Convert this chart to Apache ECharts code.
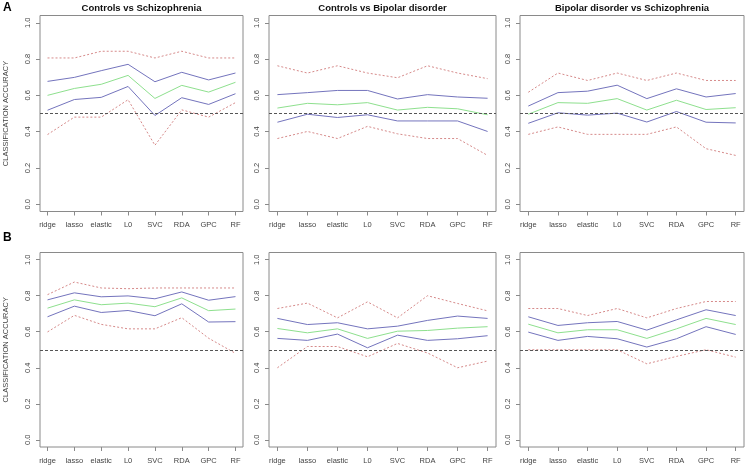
<!DOCTYPE html>
<html>
<head>
<meta charset="utf-8">
<script src="https://cdn.jsdelivr.net/npm/echarts@6/dist/echarts.min.js"></script>
<style>html,body{margin:0;padding:0;background:#fff}#c{width:752px;height:470px}</style>
</head>
<body>
<div id="c"></div>
<script>
// ---------- DATA ----------
const categories = ['ridge', 'lasso', 'elastic', 'L0', 'SVC', 'RDA', 'GPC', 'RF'];
const panelTitles = ['Controls vs Schizophrenia', 'Controls vs Bipolar disorder', 'Bipolar disorder vs Schizophrenia'];
const yTicks = [0, 0.2, 0.4, 0.6, 0.8, 1.0];
const chanceLevel = 0.5;

// Row A
const A1_redHi  = [0.806, 0.806, 0.843, 0.843, 0.806, 0.843, 0.806, 0.806];
const A1_blueHi = [0.677, 0.699, 0.736, 0.771, 0.675, 0.727, 0.685, 0.723];
const A1_green  = [0.600, 0.638, 0.661, 0.710, 0.583, 0.655, 0.618, 0.672];
const A1_blueLo = [0.518, 0.577, 0.589, 0.649, 0.489, 0.587, 0.550, 0.609];
const A1_redLo  = [0.384, 0.480, 0.480, 0.576, 0.325, 0.520, 0.480, 0.560];

const A2_redHi  = [0.763, 0.723, 0.763, 0.723, 0.697, 0.763, 0.723, 0.692];
const A2_blueHi = [0.604, 0.615, 0.627, 0.627, 0.580, 0.604, 0.591, 0.584];
const A2_green  = [0.530, 0.556, 0.548, 0.560, 0.519, 0.534, 0.526, 0.493];
const A2_blueLo = [0.452, 0.496, 0.478, 0.493, 0.459, 0.459, 0.459, 0.401];
const A2_redLo  = [0.362, 0.401, 0.362, 0.429, 0.388, 0.362, 0.362, 0.269];

const A3_redHi  = [0.617, 0.723, 0.682, 0.723, 0.682, 0.723, 0.682, 0.682];
const A3_blueHi = [0.541, 0.615, 0.623, 0.656, 0.582, 0.636, 0.591, 0.610];
const A3_green  = [0.496, 0.560, 0.556, 0.582, 0.519, 0.573, 0.522, 0.532];
const A3_blueLo = [0.446, 0.504, 0.491, 0.502, 0.453, 0.511, 0.452, 0.448];
const A3_redLo  = [0.385, 0.426, 0.385, 0.385, 0.385, 0.426, 0.306, 0.269];

// Row B
const B1_redHi  = [0.806, 0.876, 0.843, 0.839, 0.843, 0.843, 0.843, 0.843];
const B1_blueHi = [0.777, 0.816, 0.794, 0.799, 0.783, 0.821, 0.775, 0.795];
const B1_green  = [0.731, 0.777, 0.750, 0.759, 0.739, 0.788, 0.717, 0.726];
const B1_blueLo = [0.683, 0.742, 0.707, 0.718, 0.689, 0.755, 0.654, 0.656];
const B1_redLo  = [0.599, 0.691, 0.641, 0.616, 0.616, 0.678, 0.564, 0.480];

const B2_redHi  = [0.729, 0.759, 0.677, 0.766, 0.677, 0.800, 0.757, 0.716];
const B2_blueHi = [0.674, 0.640, 0.650, 0.616, 0.631, 0.663, 0.687, 0.674];
const B2_green  = [0.618, 0.594, 0.616, 0.563, 0.603, 0.607, 0.620, 0.628];
const B2_blueLo = [0.563, 0.552, 0.587, 0.511, 0.581, 0.552, 0.561, 0.578];
const B2_redLo  = [0.400, 0.518, 0.518, 0.461, 0.535, 0.482, 0.400, 0.437];

const B3_redHi  = [0.729, 0.729, 0.690, 0.729, 0.677, 0.729, 0.768, 0.768];
const B3_blueHi = [0.683, 0.635, 0.650, 0.657, 0.609, 0.666, 0.722, 0.690];
const B3_green  = [0.642, 0.594, 0.611, 0.611, 0.563, 0.616, 0.674, 0.640];
const B3_blueLo = [0.598, 0.552, 0.574, 0.561, 0.515, 0.561, 0.628, 0.585];
const B3_redLo  = [0.500, 0.500, 0.500, 0.500, 0.422, 0.463, 0.500, 0.459];

const panels = [
  [A1_redHi, A1_blueHi, A1_green, A1_blueLo, A1_redLo],
  [A2_redHi, A2_blueHi, A2_green, A2_blueLo, A2_redLo],
  [A3_redHi, A3_blueHi, A3_green, A3_blueLo, A3_redLo],
  [B1_redHi, B1_blueHi, B1_green, B1_blueLo, B1_redLo],
  [B2_redHi, B2_blueHi, B2_green, B2_blueLo, B2_redLo],
  [B3_redHi, B3_blueHi, B3_green, B3_blueLo, B3_redLo]
];

// ---------- LAYOUT / STYLE ----------
const FONT = "'Liberation Sans', Arial, Helvetica, sans-serif";
const colLeft = [40, 269, 520];
const colWidth = [203, 227, 224];
const rowTop = [15.5, 252.5];
const rowHeight = [196, 194.5];
const lineStyles = [
  { color: '#d68a8a', type: [2, 2], width: 1 },
  { color: '#7474bd', type: 'solid', width: 1 },
  { color: '#8ee08e', type: 'solid', width: 1 },
  { color: '#7474bd', type: 'solid', width: 1 },
  { color: '#d68a8a', type: [2, 2], width: 1 }
];
const xTickVals = categories.map((c, i) => i + 1);

const grids = [], xAxes = [], yAxes = [], series = [];
for (let p = 0; p < 6; p++) {
  const r = Math.floor(p / 3), c = p % 3;
  grids.push({ left: colLeft[c], top: rowTop[r], width: colWidth[c], height: rowHeight[r],
    show: true, borderColor: '#8a8a8a', borderWidth: 1, backgroundColor: 'transparent' });
  xAxes.push({ type: 'value', gridIndex: p, min: 0.72, max: 8.28, position: 'bottom',
    splitLine: { show: false }, axisLine: { show: false, onZero: false },
    axisTick: { show: true, length: 4, customValues: xTickVals, lineStyle: { color: '#8a8a8a' } },
    axisLabel: { show: true, customValues: xTickVals, margin: 9.5, fontSize: 7.5, fontFamily: FONT, color: '#444',
      formatter: v => categories[Math.round(v) - 1] || '' } });
  yAxes.push({ type: 'value', gridIndex: p, min: -0.04, max: 1.04, position: 'left',
    splitLine: { show: false }, axisLine: { show: false, onZero: false },
    axisTick: { show: true, length: 4, customValues: yTicks, lineStyle: { color: '#8a8a8a' } },
    axisLabel: { show: true, customValues: yTicks, rotate: 90, margin: 8, fontSize: 7.5, fontFamily: FONT, color: '#444',
      formatter: v => Number(v).toFixed(1) },
    name: c === 0 ? 'CLASSIFICATION ACCURACY' : '', nameLocation: 'middle', nameRotate: 90, nameGap: 30,
    nameTextStyle: { fontSize: 7.5, fontFamily: FONT, color: '#444' } });
  panels[p].forEach((arr, k) => {
    const s = { type: 'line', xAxisIndex: p, yAxisIndex: p, symbol: 'none', silent: true, animation: false,
      z: k === 2 ? 3 : 2,
      lineStyle: lineStyles[k], data: arr.map((v, j) => [j + 1, v]) };
    if (k === 0) {
      s.markLine = { silent: true, symbol: 'none', label: { show: false }, animation: false,
        lineStyle: { color: '#555', type: [3, 2], width: 1 }, data: [{ yAxis: chanceLevel }] };
    }
    series.push(s);
  });
}

const graphics = [];
for (let c = 0; c < 3; c++) {
  graphics.push({ type: 'text', x: colLeft[c] + colWidth[c] / 2, y: 8.5,
    style: { text: panelTitles[c], fontSize: 9.5, fontWeight: 'bold', fontFamily: FONT, fill: '#111',
      textAlign: 'center', textVerticalAlign: 'middle' } });
}
graphics.push({ type: 'text', x: 3, y: 8, style: { text: 'A', fontSize: 12, fontWeight: 'bold', fontFamily: FONT, fill: '#000', textVerticalAlign: 'middle' } });
graphics.push({ type: 'text', x: 3, y: 238, style: { text: 'B', fontSize: 12, fontWeight: 'bold', fontFamily: FONT, fill: '#000', textVerticalAlign: 'middle' } });

const chart = echarts.init(document.getElementById('c'), null, { renderer: 'canvas' });
chart.setOption({ animation: false, backgroundColor: '#fff', grid: grids, xAxis: xAxes, yAxis: yAxes, series: series, graphic: graphics });
</script>
</body>
</html>
